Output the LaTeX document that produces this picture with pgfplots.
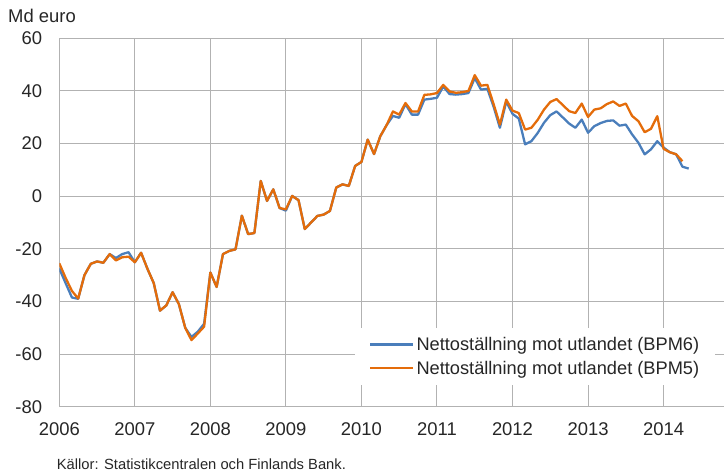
\documentclass[border=0pt]{standalone}
\usepackage{pgfplots}
\pgfplotsset{compat=1.18}
\usepackage{fontspec}
\setmainfont{Liberation Sans}
\definecolor{bpmblue}{RGB}{74,126,187}
\definecolor{bpmorange}{RGB}{228,108,10}
\definecolor{gridgray}{RGB}{178,178,178}

\pgfplotstableread{
x y
2006.000 -27.5
2006.083 -33
2006.167 -38.5
2006.250 -39
2006.333 -30
2006.417 -25.7
2006.500 -24.8
2006.583 -25.3
2006.667 -22
2006.750 -23.5
2006.833 -22
2006.917 -21.3
2007.000 -25.1
2007.083 -21.5
2007.167 -27.6
2007.250 -33
2007.333 -43.5
2007.417 -41.5
2007.500 -36.5
2007.583 -41
2007.667 -50
2007.750 -53.5
2007.833 -51.5
2007.917 -48.5
2008.000 -29
2008.083 -34.5
2008.167 -22
2008.250 -20.8
2008.333 -20.2
2008.417 -7.4
2008.500 -14.4
2008.583 -14
2008.667 5.8
2008.750 -1.8
2008.833 2.6
2008.917 -4.5
2009.000 -5.5
2009.083 0.1
2009.167 -1.5
2009.250 -12.5
2009.333 -10
2009.417 -7.5
2009.500 -7
2009.583 -5.6
2009.667 3.3
2009.750 4.5
2009.833 3.9
2009.917 11.5
2010.000 13
2010.083 21.5
2010.167 16
2010.250 22.8
2010.333 27
2010.417 30.5
2010.500 29.8
2010.583 35
2010.667 31
2010.750 31
2010.833 36.7
2010.917 37
2011.000 37.4
2011.083 41.7
2011.167 38.8
2011.250 38.6
2011.333 38.8
2011.417 39.2
2011.500 44.9
2011.583 40.5
2011.667 40.8
2011.750 34
2011.833 26
2011.917 35.9
2012.000 31.3
2012.083 29.5
2012.167 19.7
2012.250 20.9
2012.333 24
2012.417 27.9
2012.500 30.8
2012.583 32.2
2012.667 29.9
2012.750 27.6
2012.833 26
2012.917 29.1
2013.000 24.1
2013.083 26.6
2013.167 27.8
2013.250 28.6
2013.333 28.8
2013.417 26.8
2013.500 27.2
2013.583 23.5
2013.667 20.3
2013.750 15.9
2013.833 17.8
2013.917 20.9
2014.000 18.5
2014.083 16.7
2014.167 15.9
2014.250 11.2
2014.333 10.5
}\bpmsix

\pgfplotstableread{
x y
2006.000 -25.5
2006.083 -31
2006.167 -36
2006.250 -38.9
2006.333 -30
2006.417 -25.7
2006.500 -24.8
2006.583 -25.3
2006.667 -22
2006.750 -24.4
2006.833 -23.2
2006.917 -23
2007.000 -25.1
2007.083 -21.5
2007.167 -27.6
2007.250 -33
2007.333 -43.5
2007.417 -41.5
2007.500 -36.5
2007.583 -41
2007.667 -50
2007.750 -54.7
2007.833 -52.2
2007.917 -49.6
2008.000 -29
2008.083 -34.5
2008.167 -22
2008.250 -20.8
2008.333 -20.2
2008.417 -7.4
2008.500 -14.4
2008.583 -14
2008.667 5.8
2008.750 -1.8
2008.833 2.6
2008.917 -4.5
2009.000 -5
2009.083 0.1
2009.167 -1.5
2009.250 -12.5
2009.333 -10
2009.417 -7.5
2009.500 -7
2009.583 -5.6
2009.667 3.3
2009.750 4.5
2009.833 3.9
2009.917 11.5
2010.000 13
2010.083 21.5
2010.167 16
2010.250 22.8
2010.333 27
2010.417 32.2
2010.500 31
2010.583 35.4
2010.667 32.2
2010.750 32.2
2010.833 38.5
2010.917 38.7
2011.000 39.2
2011.083 42.3
2011.167 39.8
2011.250 39.3
2011.333 39.5
2011.417 40
2011.500 46
2011.583 42
2011.667 42.3
2011.750 35
2011.833 27.2
2011.917 36.7
2012.000 32.5
2012.083 31.6
2012.167 25.3
2012.250 26
2012.333 29
2012.417 32.9
2012.500 35.8
2012.583 36.9
2012.667 34.6
2012.750 32.3
2012.833 31.6
2012.917 35.2
2013.000 30.1
2013.083 32.9
2013.167 33.4
2013.250 35
2013.333 36
2013.417 34.3
2013.500 35.2
2013.583 30.5
2013.667 28.5
2013.750 24.3
2013.833 25.6
2013.917 30.4
2014.000 18
2014.083 16.7
2014.167 15.9
2014.250 13.3
}\bpmfive

\begin{document}
\begin{tikzpicture}
\path[use as bounding box] (-59.3bp,-66.3bp) rectangle (665.7bp,406.7bp);
\begin{axis}[
  at={(0,0)}, anchor=south west,
  scale only axis, width=664.7bp, height=368.4bp,
  xmin=2006, xmax=2014.8, ymin=-80, ymax=60,
  axis x line*=bottom, axis y line*=left,
  axis line style={gridgray, line width=1bp, -},
  xtick={2006,2007,2008,2009,2010,2011,2012,2013,2014},
  xticklabels={2006,2007,2008,2009,2010,2011,2012,2013,2014},
  ytick={-80,-60,-40,-20,0,20,40,60},
  yticklabels={-80,-60,-40,-20,0,20,40,60},
  grid=major, major grid style={gridgray, line width=1bp},
  major tick length=0pt,
  tick label style={font=\fontsize{18.5}{20}\selectfont, text=black!85},
  yticklabel style={anchor=east, inner sep=0pt, xshift=-17bp},
  xticklabel style={anchor=north, inner sep=0pt, yshift=-16bp},
  legend style={at={(0.4449,0.2136)}, anchor=north west, draw=none, fill=white,
    font=\fontsize{18.3}{20}\selectfont, text=black!85, inner xsep=14bp, inner ysep=7bp,
    row sep=5bp},
  legend cell align=left,
  legend image code/.code={\draw[#1] (0bp,0bp) -- (43bp,0bp);},
]
\addplot[bpmblue, line width=2.3pt, line join=round] table[x=x,y=y] {\bpmsix};
\addlegendentry{Nettoställning mot utlandet (BPM6)}
\addplot[bpmorange, line width=2.3pt, line join=round] table[x=x,y=y] {\bpmfive};
\addlegendentry{Nettoställning mot utlandet (BPM5)}
\end{axis}
\node[anchor=base west, inner sep=0pt, font=\fontsize{18.5}{20}\selectfont, text=black!85] at (-51.3bp,383.7bp) {Md euro};
\node[anchor=base west, inner sep=0pt, font=\fontsize{14.8}{16}\selectfont, text=black!85] at (-2.6bp,-62.3bp) {Källor: Statistikcentralen och Finlands Bank.};
\end{tikzpicture}
\end{document}
